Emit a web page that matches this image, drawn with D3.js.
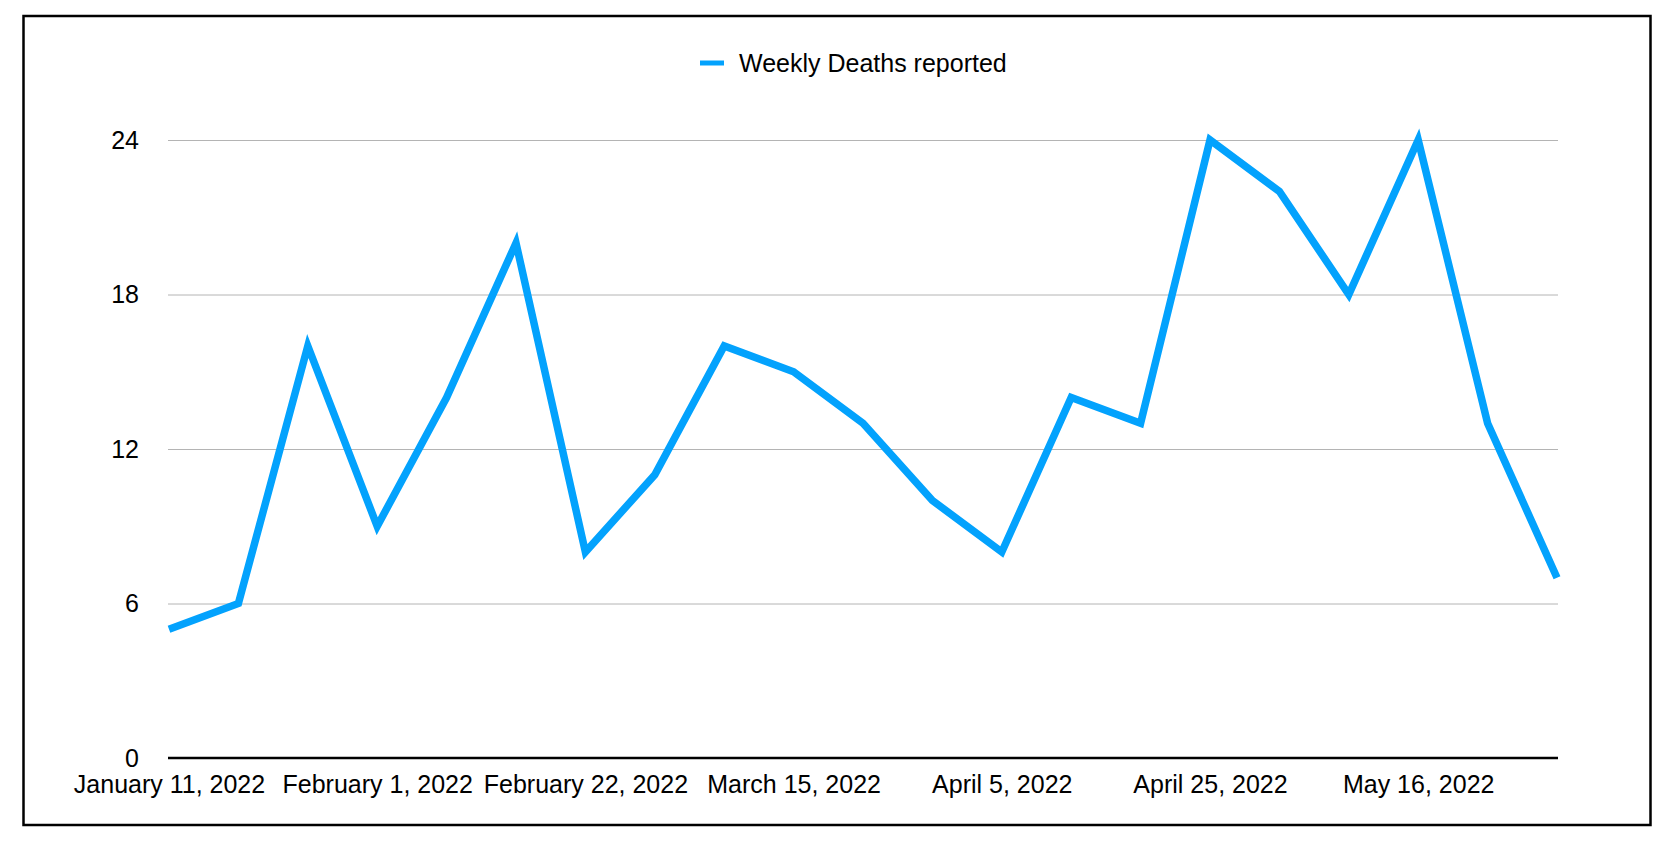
<!DOCTYPE html>
<html lang="en">
<head>
  <meta charset="UTF-8">
  <title>Weekly Deaths reported</title>
  <script src="https://cdn.jsdelivr.net/npm/d3@7"></script>
  <style>
    body { margin: 0; background: #fff; }
    svg text {
      font-family: "Liberation Sans", Arial, Helvetica, sans-serif;
      font-size: 25px;
      fill: #000;
    }
  </style>
</head>
<body>
  <script>
    // weekly report dates (only every 3rd is labelled on the axis)
    var weeks = ["January 11, 2022", "January 18, 2022", "January 25, 2022",
                 "February 1, 2022", "February 8, 2022", "February 15, 2022",
                 "February 22, 2022", "March 1, 2022", "March 8, 2022",
                 "March 15, 2022", "March 22, 2022", "March 29, 2022",
                 "April 5, 2022", "April 12, 2022", "April 19, 2022",
                 "April 25, 2022", "May 2, 2022", "May 9, 2022",
                 "May 16, 2022", "May 23, 2022", "May 30, 2022"];
    var deaths = [5, 6, 16, 9, 14, 20, 8, 11, 16, 15, 13, 10, 8, 14, 13, 24, 22, 18, 24, 13, 7];
    var yTicks = [0, 6, 12, 18, 24];
    var seriesName = "Weekly Deaths reported";

    var width = 1676, height = 858;

    var svg = d3.select("body").append("svg")
      .attr("width", width)
      .attr("height", height);

    // outer frame
    svg.append("rect")
      .attr("x", 23.5).attr("y", 16)
      .attr("width", 1627).attr("height", 809)
      .attr("fill", "none")
      .attr("stroke", "#000")
      .attr("stroke-width", 2.5);

    var x = d3.scalePoint().domain(weeks).range([169, 1557]);
    var y = d3.scaleLinear().domain([0, 24]).range([758, 140]);

    // gridlines + y labels
    var yAxis = d3.axisLeft(y).tickValues(yTicks).tickSize(-(1558 - 168)).tickPadding(29);
    var gy = svg.append("g")
      .attr("transform", "translate(168,0)")
      .call(yAxis);
    gy.select(".domain").remove();
    gy.selectAll(".tick line").attr("stroke", "#b4b4b4").attr("stroke-width", 1);
    gy.selectAll(".tick").filter(function(d) { return d === 0; }).select("line").remove();
    gy.selectAll(".tick text").attr("font-size", 25).attr("font-family", null);

    // x axis (baseline at zero)
    var xAxis = d3.axisBottom(x)
      .tickValues(weeks.filter(function(d, i) { return i % 3 === 0; }))
      .tickSize(0).tickPadding(17);
    var gx = svg.append("g")
      .attr("transform", "translate(0," + y(0) + ")")
      .call(xAxis);
    gx.select(".domain").remove();
    gx.selectAll(".tick text").attr("font-size", 25).attr("font-family", null);
    gx.append("line")
      .attr("x1", 168).attr("x2", 1558)
      .attr("stroke", "#000").attr("stroke-width", 2.5);

    // series line
    var line = d3.line()
      .x(function(d, i) { return x(weeks[i]); })
      .y(function(d) { return y(d); });

    svg.append("path")
      .datum(deaths)
      .attr("d", line)
      .attr("fill", "none")
      .attr("stroke", "#03a2fd")
      .attr("stroke-width", 7.5)
      .attr("stroke-linejoin", "miter")
      .attr("stroke-miterlimit", 10);

    // legend
    var legend = svg.append("g").attr("transform", "translate(700,63)");
    legend.append("line")
      .attr("x1", 0).attr("x2", 24)
      .attr("stroke", "#03a2fd").attr("stroke-width", 5);
    legend.append("text")
      .attr("x", 39).attr("y", 0).attr("dy", "0.35em")
      .text(seriesName);
  </script>
</body>
</html>
